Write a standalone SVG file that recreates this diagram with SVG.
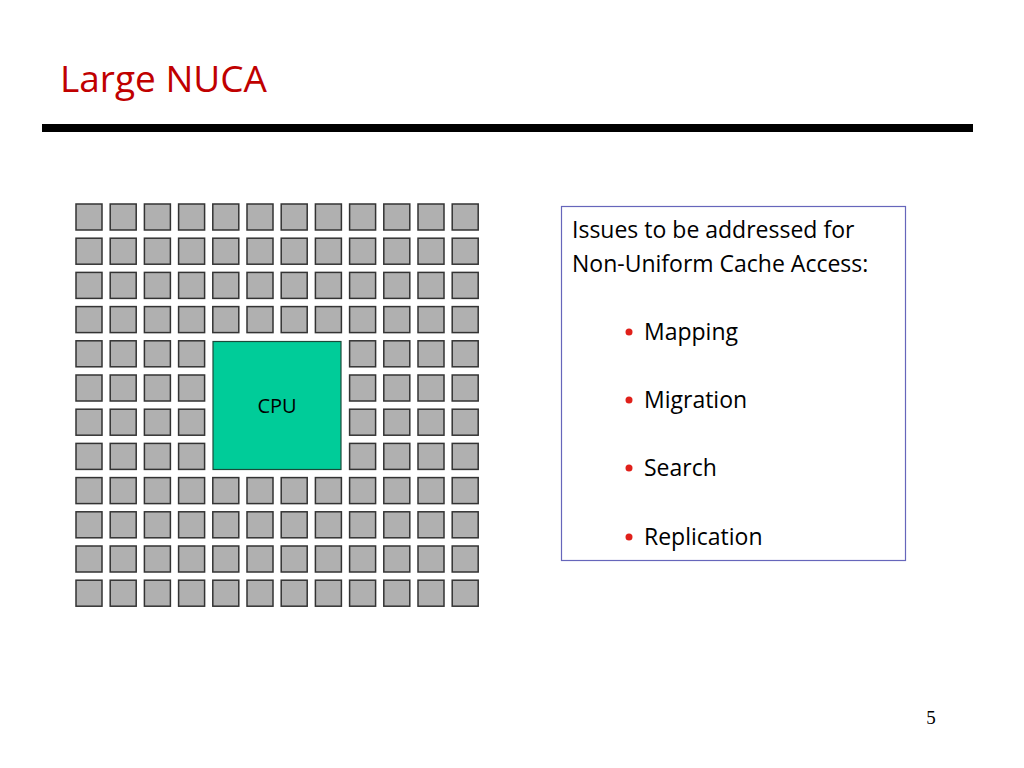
<svg xmlns="http://www.w3.org/2000/svg" xmlns:xlink="http://www.w3.org/1999/xlink" width="1024" height="768" viewBox="0 0 1024 768">
<style>
.c{fill:#b0b0b0;stroke:#333;stroke-width:1.5}
.t{font-family:"Open Sans","Liberation Sans",sans-serif;fill:#000}
.b{fill:#e0201a}
</style>
<defs><rect id="c" class="c" width="26" height="26"/></defs>
<rect width="1024" height="768" fill="#fff"/>
<text x="60" y="92" font-family="Open Sans,Liberation Sans,sans-serif" font-size="37" fill="#c00000">Large NUCA</text>
<rect x="42" y="124" width="931" height="8" fill="#000"/>
<g id="grid">
<g id="r0"><use href="#c" x="76" y="204"/><use href="#c" x="110.2" y="204"/><use href="#c" x="144.4" y="204"/><use href="#c" x="178.6" y="204"/><use href="#c" x="212.8" y="204"/><use href="#c" x="247" y="204"/><use href="#c" x="281.2" y="204"/><use href="#c" x="315.4" y="204"/><use href="#c" x="349.6" y="204"/><use href="#c" x="383.8" y="204"/><use href="#c" x="418" y="204"/><use href="#c" x="452.2" y="204"/></g>
<use href="#r0" y="34.2"/><use href="#r0" y="68.4"/><use href="#r0" y="102.6"/>
<use href="#r0" y="273.6"/><use href="#r0" y="307.8"/><use href="#r0" y="342"/><use href="#r0" y="376.2"/>
<g id="s0"><use href="#c" x="76" y="340.8"/><use href="#c" x="110.2" y="340.8"/><use href="#c" x="144.4" y="340.8"/><use href="#c" x="178.6" y="340.8"/><use href="#c" x="349.6" y="340.8"/><use href="#c" x="383.8" y="340.8"/><use href="#c" x="418" y="340.8"/><use href="#c" x="452.2" y="340.8"/></g>
<use href="#s0" y="34.2"/><use href="#s0" y="68.4"/><use href="#s0" y="102.6"/>
</g>
<g id="cpu">
<rect x="213" y="341.5" width="128" height="128" fill="#00cc99" stroke="#1a4a3a" stroke-width="1.2"/>
<text x="277" y="413" class="t" font-size="20" text-anchor="middle">CPU</text>
</g>
<g id="issues">
<rect x="561.5" y="206.5" width="344" height="354" fill="#fff" stroke="#6666bb" stroke-width="1.2"/>
<text class="t" font-size="23"><tspan x="572" y="238">Issues to be addressed for</tspan><tspan x="572" y="272">Non-Uniform Cache Access:</tspan></text>
<circle class="b" cx="629" cy="332" r="3.5"/><text x="644" y="340" class="t" font-size="23">Mapping</text>
<circle class="b" cx="629" cy="400" r="3.5"/><text x="644" y="408" class="t" font-size="23">Migration</text>
<circle class="b" cx="629" cy="468" r="3.5"/><text x="644" y="476" class="t" font-size="23">Search</text>
<circle class="b" cx="629" cy="537" r="3.5"/><text x="644" y="545" class="t" font-size="23">Replication</text>
</g>
<text x="931" y="724" font-family="Liberation Serif,serif" font-size="19" text-anchor="middle">5</text>
</svg>
